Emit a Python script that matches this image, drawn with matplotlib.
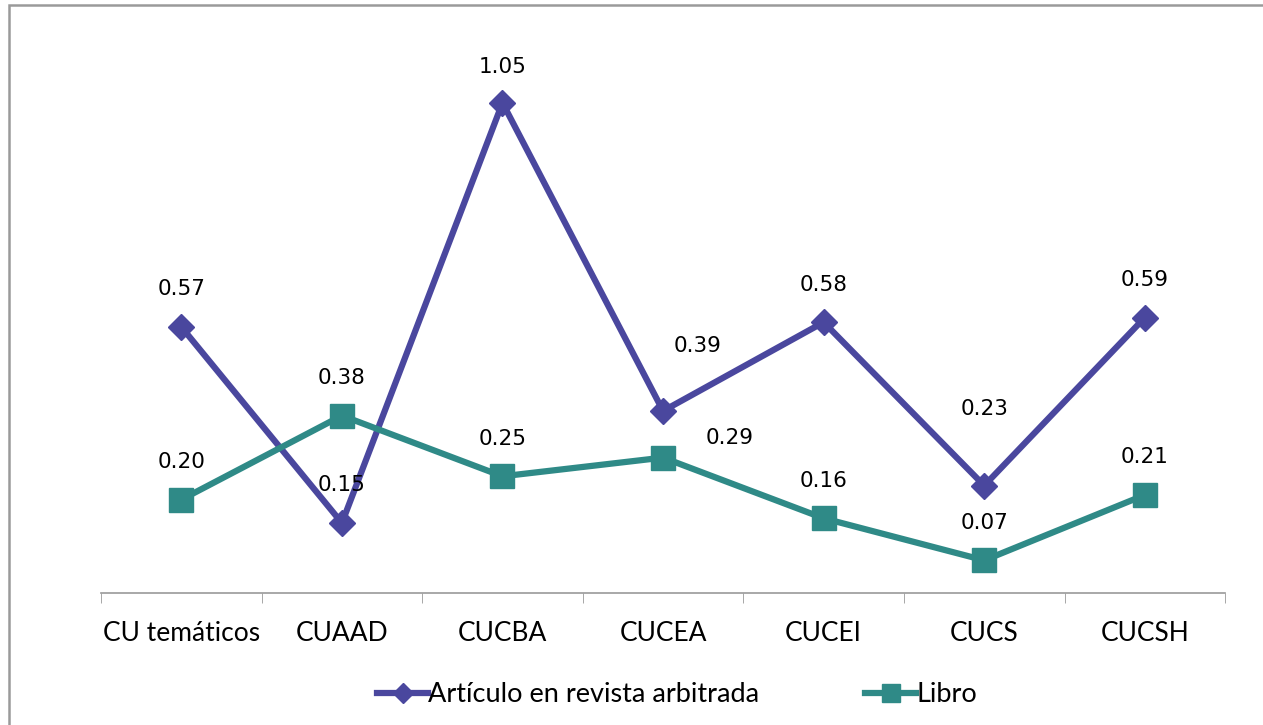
import matplotlib
matplotlib.use("Agg")
import matplotlib.pyplot as plt
from matplotlib.patches import Rectangle

categories = ["CU temáticos", "CUAAD", "CUCBA", "CUCEA", "CUCEI", "CUCS", "CUCSH"]
articulo = [0.57, 0.15, 1.05, 0.39, 0.58, 0.23, 0.59]
libro = [0.20, 0.38, 0.25, 0.29, 0.16, 0.07, 0.21]

# label offsets in points (dx, dy)
art_offsets = [(0, 27), (0, 27), (0, 26), (25, 47), (0, 27), (0, 55), (0, 27)]
lib_offsets = [(0, 27), (0, 27), (0, 27), (48, 14), (0, 27), (0, 27), (0, 27)]

PURPLE = "#4A479E"
TEAL = "#2F8A87"

fig = plt.figure(figsize=(12.63, 7.25), dpi=100)
ax = fig.add_axes([0.08, 1 - 593 / 725, 0.89, 0.7727])

# outer chart frame
fig.patches.append(Rectangle((9 / 1263, -0.05), 1.2, 1.05 - 5 / 725,
                             transform=fig.transFigure, fill=False,
                             edgecolor="#9a9a9a", linewidth=1.8))

x = list(range(len(categories)))
ax.plot(x, articulo, color=PURPLE, lw=4.5, marker="D", markersize=13,
        label="Artículo en revista arbitrada", zorder=3)
ax.plot(x, libro, color=TEAL, lw=4.5, marker="s", markersize=17,
        label="Libro", zorder=3)

for i, v in enumerate(articulo):
    ax.annotate(f"{v:.2f}", (i, v), xytext=art_offsets[i], textcoords="offset points",
                ha="center", va="center", fontsize=15.5, family="DejaVu Sans")
for i, v in enumerate(libro):
    ax.annotate(f"{v:.2f}", (i, v), xytext=lib_offsets[i], textcoords="offset points",
                ha="center", va="center", fontsize=15.5, family="DejaVu Sans")

ax.set_xlim(-0.5, len(categories) - 0.5)
ax.set_ylim(0, 1.2)
ax.set_yticks([])
ax.set_xticks(x)
ax.set_xticklabels(categories, fontsize=19, family="Lato")
ax.set_xticks([i - 0.5 for i in range(len(categories) + 1)], minor=True)
ax.tick_params(axis="x", which="major", length=0, pad=20)
ax.tick_params(axis="x", which="minor", length=7, color="#999999", direction="out")
for s in ["top", "right", "left"]:
    ax.spines[s].set_visible(False)
ax.spines["bottom"].set_color("#999999")
ax.spines["bottom"].set_linewidth(1.2)

leg = fig.legend(loc="center", bbox_to_anchor=(677 / 1263, 1 - 695 / 725), ncol=2, frameon=False,
                 prop={"family": "Lato", "size": 19.5}, handlelength=1.9, markerscale=0.75,
                 handletextpad=0.0, columnspacing=3.9, borderpad=0)

fig.savefig("out.png", dpi=100)
